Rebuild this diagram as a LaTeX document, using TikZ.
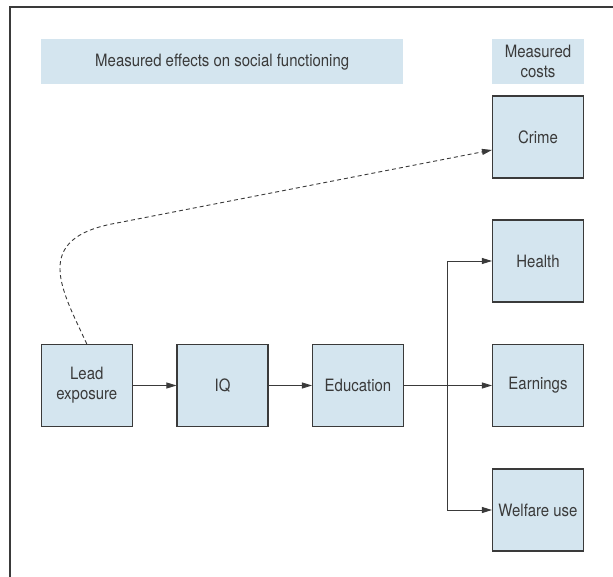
\documentclass[tikz,border=0pt]{standalone}
\usepackage{fontspec}
\setmainfont{TeX Gyre Heros}[FakeStretch=0.88]
\usetikzlibrary{arrows.meta}
\definecolor{boxfill}{HTML}{D4E5EF}
\definecolor{ink}{HTML}{3A3A3A}

\begin{document}
\begin{tikzpicture}[x=1pt,y=-1pt,
  box/.style={draw=ink,line width=1.1pt,fill=boxfill,minimum width=91pt,minimum height=82pt,inner sep=0pt,align=center,text=ink},
  header/.style={fill=boxfill,minimum height=45pt,inner sep=0pt,align=center,text=ink},
  link/.style={draw=ink,line width=0.9pt,-{Triangle[length=10pt,width=6pt]}}]
 	\tikzstyle{every node}+=[font=\fontsize{17}{20}\selectfont]
 	\useasboundingbox (0,0) rectangle (613,577);
 	\draw [ink,line width=1.6pt] (10,577) -- (10,7) -- (613,7);
 	\node [header,minimum width=362pt] (effects) at (222.2,61.7) {Measured effects on social functioning};
 	\node [header,minimum width=92pt] (costs) at (538,61.7) {Measured\\costs};
 	\node [box] (lead) at (86.8,385.5) {Lead\\exposure};
 	\node [box] (iq) at (222.5,385.5) {IQ};
 	\node [box] (edu) at (358,385.5) {Education};
 	\node [box] (crime) at (538,137) {Crime};
 	\node [box] (health) at (538,261) {Health};
 	\node [box] (earn) at (538,385.5) {Earnings};
 	\node [box] (welfare) at (538,510) {Welfare use};
 	\coordinate (split) at (447.6,385.5);
 	\draw [link] (lead) -- (iq);
 	\draw [link] (iq) -- (edu);
 	\draw [link] (edu) -- (earn);
 	\draw [link] (split) |- (health.west);
 	\draw [link] (split) |- (welfare.west);
 	\draw [link,dash pattern=on 4pt off 3pt] (lead.north) .. controls (62,290) and (30,238) .. (117,223) -- ([yshift=-13pt]crime.west);
\end{tikzpicture}
\end{document}
